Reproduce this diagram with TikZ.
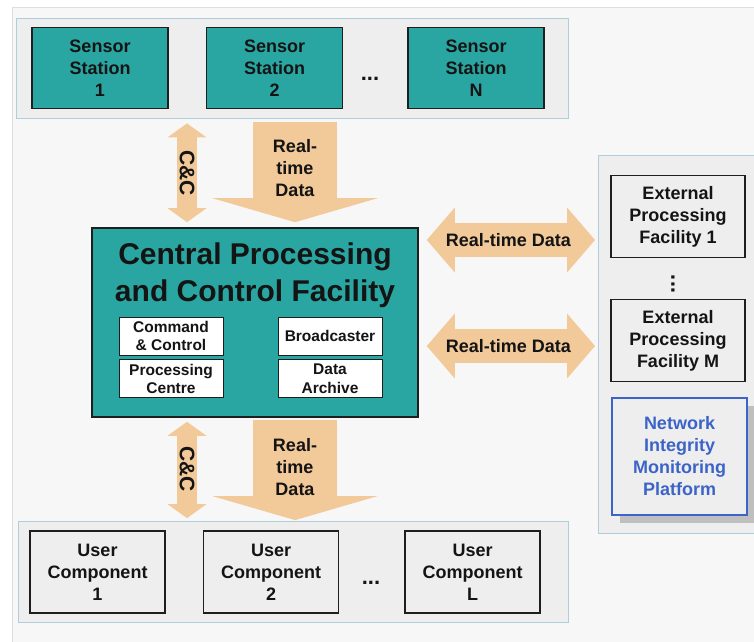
\documentclass[tikz,border=0pt]{standalone}
\usepackage{fontspec}
\setmainfont{Liberation Sans}
\usepackage{xcolor}
\definecolor{stationTeal}{HTML}{2AA6A2}
\definecolor{panelGray}{HTML}{EEEEEE}
\definecolor{panelEdge}{HTML}{AECDDD}
\definecolor{frameGray}{HTML}{F7F7F7}
\definecolor{frameEdge}{HTML}{E4DCDC}
\definecolor{boxEdge}{HTML}{1E1E1E}
\definecolor{flowPeach}{HTML}{F2C999}
\definecolor{monitorBlue}{HTML}{3C64C8}
\definecolor{darkText}{HTML}{141414}
\usepackage{tikz}
\usetikzlibrary{
    arrows.meta,
    positioning,
    shadows
}
\tikzset{
    % Grey strip that holds a row of boxes
    panel/.style={
        draw=panelEdge,
        fill=panelGray,
        line width=0.8pt,
        inner sep=0pt,
    },
    % Base style for all labelled boxes
    box base/.style={
        rectangle,
        align=center,
        text=darkText,
        inner sep=0pt,
        font=\bfseries\fontsize{18}{22}\selectfont,
    },
    % Sensor stations - teal
    station/.style={
        box base,
        draw=boxEdge,
        line width=1.6pt,
        fill=stationTeal,
        minimum width=136pt,
        minimum height=81pt,
    },
    % User components - grey
    usercomp/.style={
        box base,
        draw=boxEdge,
        line width=1.6pt,
        fill=panelGray,
        minimum width=135pt,
        minimum height=82pt,
    },
    % External facilities
    external/.style={
        box base,
        draw=boxEdge,
        line width=1.6pt,
        fill=panelGray,
        minimum width=134pt,
        minimum height=82pt,
    },
    % Monitoring platform - blue with shadow
    monitor/.style={
        box base,
        draw=monitorBlue,
        line width=1.8pt,
        fill=panelGray,
        text=monitorBlue,
        minimum width=135pt,
        minimum height=117pt,
        drop shadow={shadow xshift=8pt, shadow yshift=-8pt, fill=black!25, opacity=1},
    },
    % Central facility
    facility/.style={
        box base,
        draw=boxEdge,
        line width=1.6pt,
        fill=stationTeal,
        minimum width=326pt,
        minimum height=189pt,
    },
    % Small white units inside the facility
    unit/.style={
        box base,
        draw=boxEdge,
        line width=0.9pt,
        fill=white,
        minimum width=104pt,
        minimum height=38pt,
        font=\bfseries\fontsize{15.5}{18.5}\selectfont,
    },
    dots/.style={
        text=darkText,
        align=center,
        font=\bfseries\fontsize{22}{22}\selectfont,
    },
    % Fat data arrow
    data flow/.style={
        draw=flowPeach,
        line width=84pt,
        -{Triangle[width=165pt, length=24pt, line width=0pt]},
    },
    % Command and control double arrow
    cc flow/.style={
        draw=flowPeach,
        line width=20pt,
        {Triangle[width=39pt, length=14pt, line width=0pt]}-{Triangle[width=39pt, length=14pt, line width=0pt]},
    },
    % Link to external facilities
    link flow/.style={
        draw=flowPeach,
        line width=34pt,
        {Triangle[width=65pt, length=28pt, line width=0pt]}-{Triangle[width=65pt, length=28pt, line width=0pt]},
    },
    flow label/.style={
        text=darkText,
        align=center,
        font=\bfseries\fontsize{18}{22}\selectfont,
    },
}
\begin{document}
\begin{tikzpicture}[x=1pt, y=-1pt]
    \useasboundingbox (0,0) rectangle (754,641);
    \fill[white] (0,0) rectangle (754,641);
    \draw[frameEdge, fill=frameGray, line width=0.8pt] (12,7) rectangle (770,660);

    % sensor row
    \node (sensors) [panel, minimum width=552pt, minimum height=100pt] at (292,68) {};
    \node (station1) [station] at (100,68) {Sensor\\Station\\1};
    \node (station2) [station, right=37pt of station1] {Sensor\\Station\\2};
    \node (stationN) [station, right=64pt of station2] {Sensor\\Station\\N};
    \node (sdots) [dots] at (370,79) {...};

    % central facility
    \node (central) [facility] at (255,322.5) {};
    \node (centraltitle) [box base, font=\bfseries\fontsize{30}{37}\selectfont] at (255,275) {Central Processing\\and Control Facility};
    \node (command) [unit] at (171,336) {Command\\\& Control};
    \node (broadcast) [unit] at (330,336) {Broadcaster};
    \node (processing) [unit, below=4pt of command] {Processing\\Centre};
    \node (archive) [unit, below=4pt of broadcast] {Data\\Archive};

    % external side
    \node (outside) [panel, minimum width=170pt, minimum height=378pt, anchor=north west] at (598,155) {};
    \node (external1) [external] at (678,216.5) {External\\Processing\\Facility 1};
    \node (externalM) [external] at (678,340.5) {External\\Processing\\Facility M};
    \node (edots) [dots, rotate=90] at (673,284) {...};
    \node (integrity) [monitor] at (679.5,456.5) {Network\\Integrity\\Monitoring\\Platform};

    % user row
    \node (users) [panel, minimum width=550pt, minimum height=101pt] at (293,571.5) {};
    \node (user1) [usercomp] at (97.5,572) {User\\Component\\1};
    \node (user2) [usercomp, right=37pt of user1] {User\\Component\\2};
    \node (userL) [usercomp, right=65pt of user2] {User\\Component\\L};
    \node (udots) [dots] at (371,583) {...};

    % lanes for the flows
    \coordinate (cclane) at (187,0);
    \coordinate (datalane) at (295,0);
    \coordinate (link1) at (0,240);
    \coordinate (linkM) at (0,346);

    \draw [cc flow, shorten <=5pt, shorten >=5pt] (sensors.south -| cclane) -- (central.north -| cclane) node [midway, flow label, rotate=-90, font=\bfseries\fontsize{21}{22}\selectfont] {C\&C};
    \draw [data flow, shorten <=4pt, shorten >=5pt] (sensors.south -| datalane) -- (central.north -| datalane) node [pos=0.46, flow label] {Real-\\time\\Data};
    \draw [cc flow, shorten <=4pt, shorten >=2.5pt] (central.south -| cclane) -- (users.north -| cclane) node [midway, flow label, rotate=-90, font=\bfseries\fontsize{21}{22}\selectfont] {C\&C};
    \draw [data flow, shorten <=2pt, shorten >=0.5pt] (central.south -| datalane) -- (users.north -| datalane) node [pos=0.48, flow label] {Real-\\time\\Data};
    \draw [link flow, shorten <=8pt, shorten >=3pt] (central.east |- link1) -- (outside.west |- link1) node [midway, flow label] {Real-time Data};
    \draw [link flow, shorten <=8pt, shorten >=3pt] (central.east |- linkM) -- (outside.west |- linkM) node [midway, flow label] {Real-time Data};
\end{tikzpicture}
\end{document}
